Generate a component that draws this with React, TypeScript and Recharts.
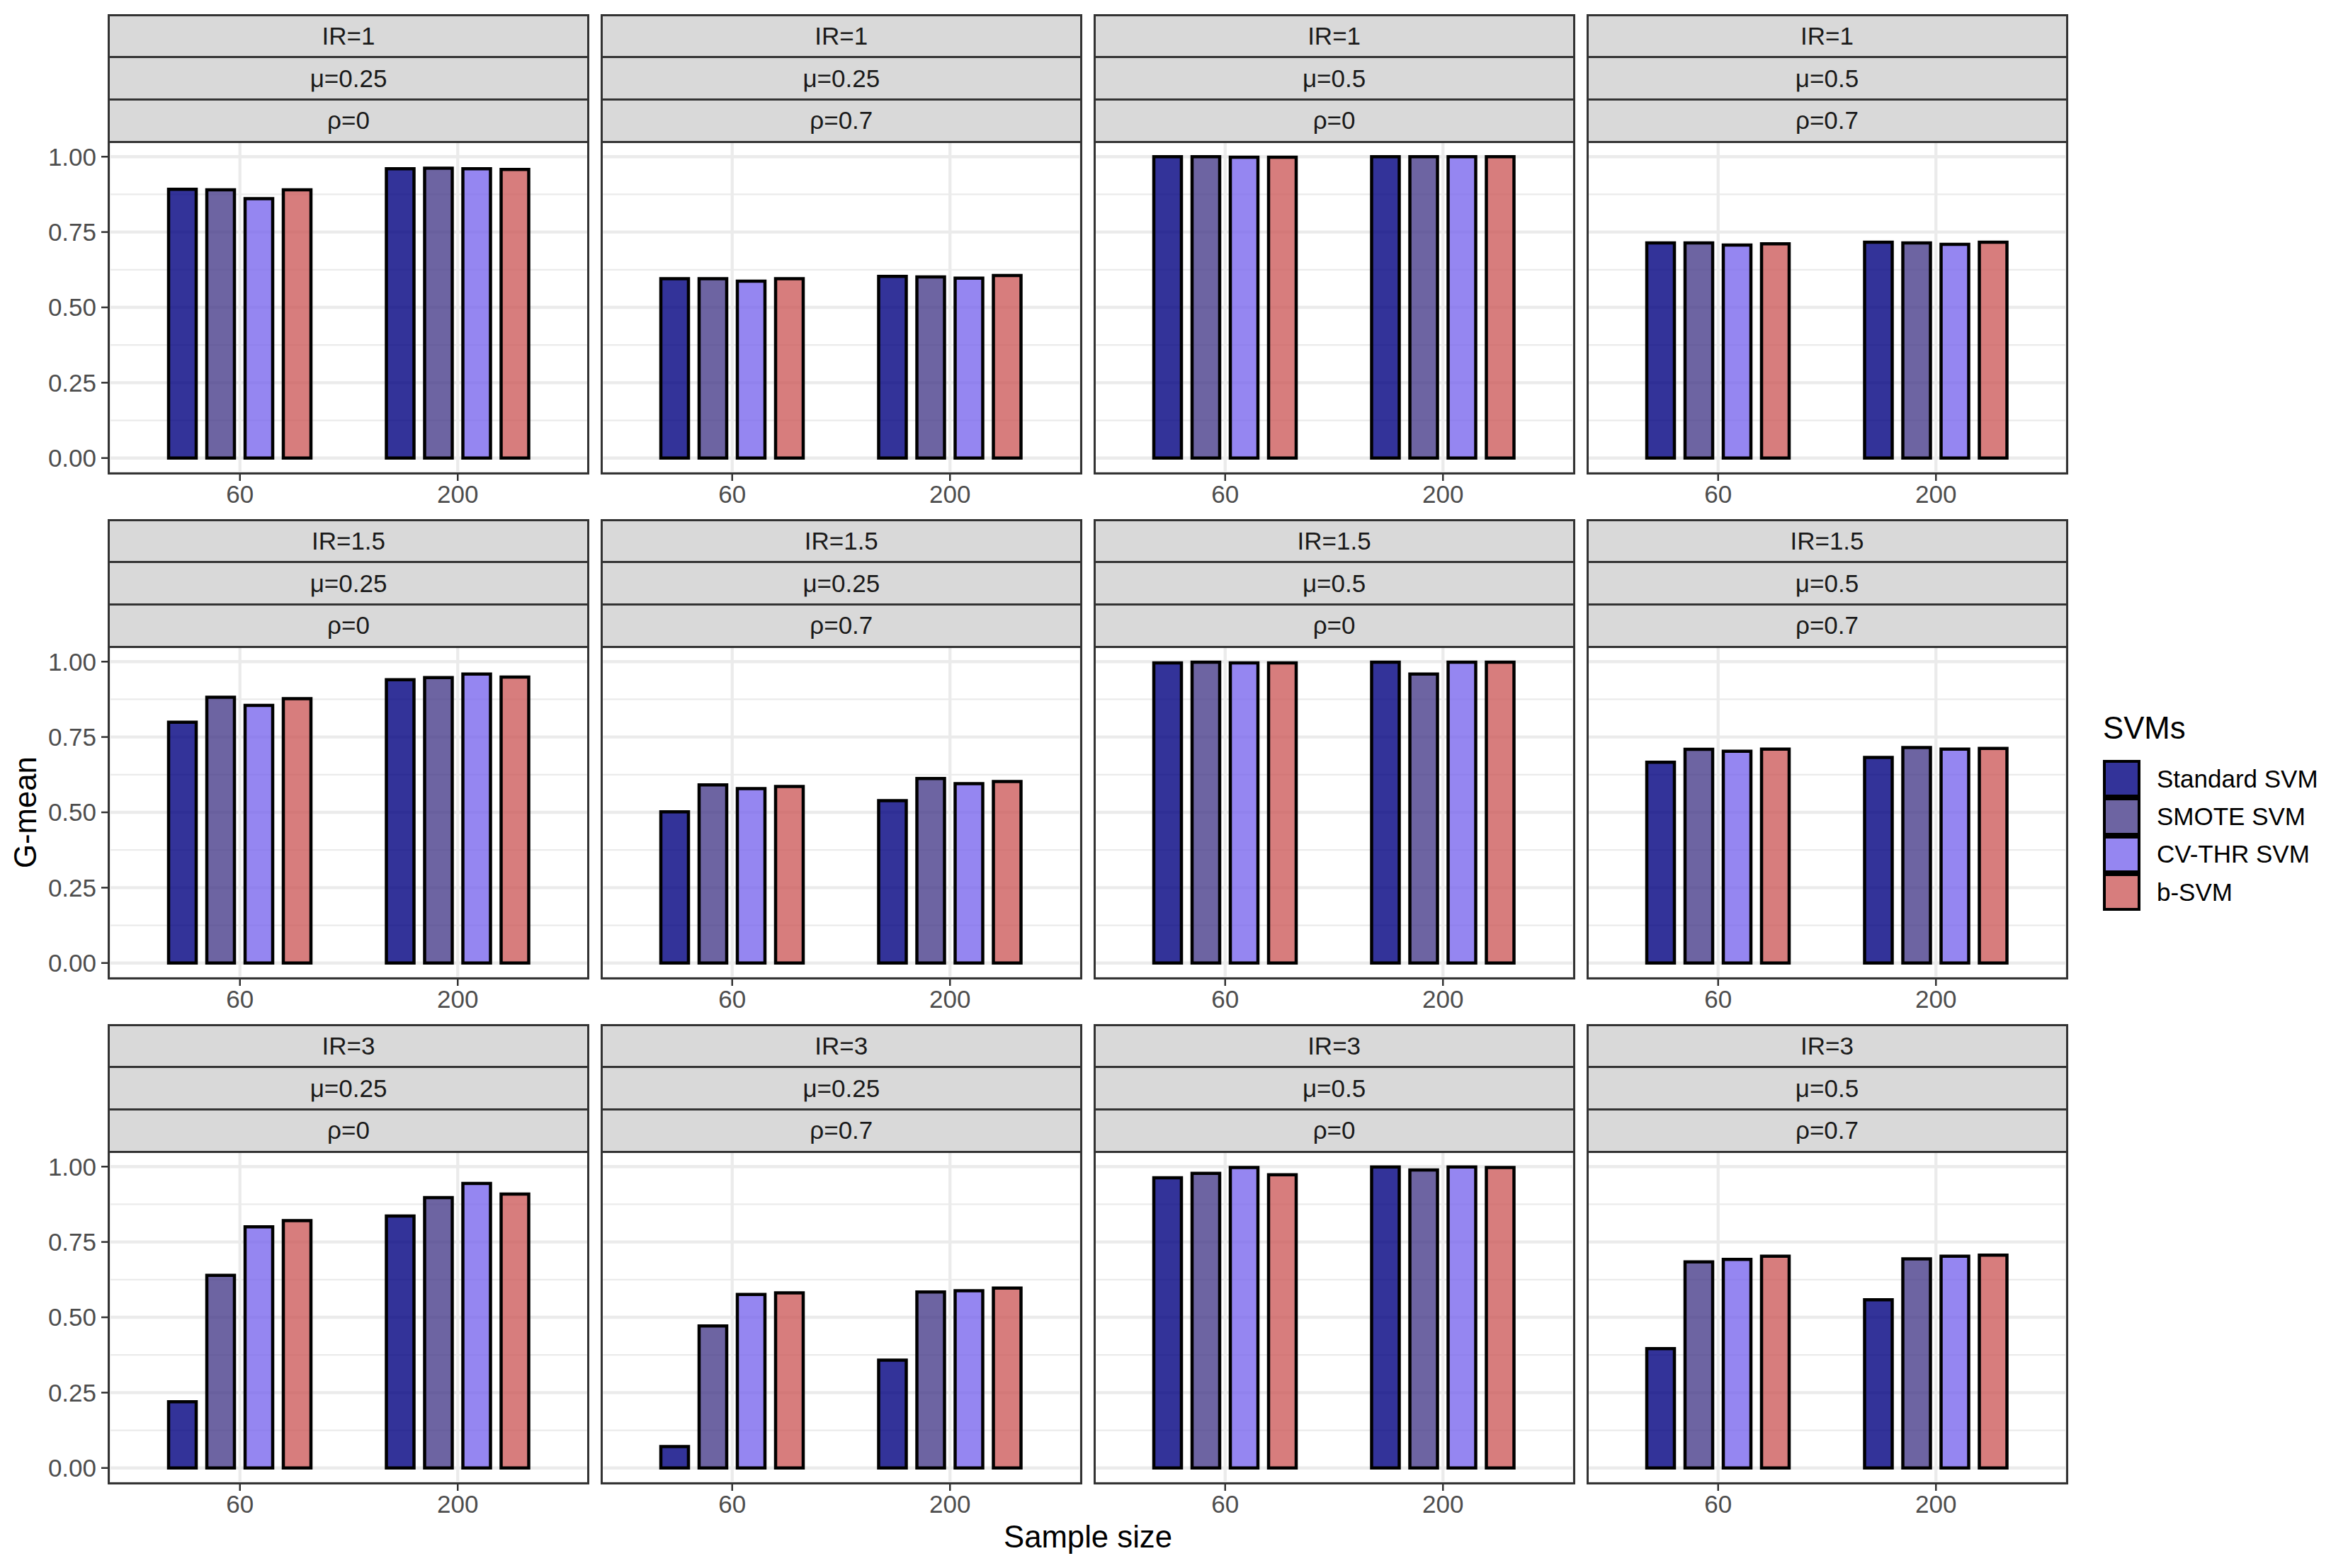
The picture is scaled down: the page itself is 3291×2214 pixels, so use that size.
import React from "react";
import { BarChart, Bar, XAxis, YAxis, CartesianGrid } from "recharts";

// facet levels
const irLevels = ["IR=1", "IR=1.5", "IR=3"];
const muLevels = ["μ=0.25", "μ=0.25", "μ=0.5", "μ=0.5"];
const rhoLevels = ["ρ=0", "ρ=0.7", "ρ=0", "ρ=0.7"];

const sampleSizes = ["60", "200"];
const svmNames = ["Standard SVM", "SMOTE SVM", "CV-THR SVM", "b-SVM"];
const svmFills = ["#000080", "#483D8B", "#7B68EE", "#CD5C5C"];

const yTicks = [0, 0.125, 0.25, 0.375, 0.5, 0.625, 0.75, 0.875, 1];

// G-mean, rows = sample size (60, 200), cols = svm
const ir1Mu25Rho0 = [[0.892, 0.89, 0.861, 0.89], [0.96, 0.962, 0.96, 0.958]];
const ir1Mu25Rho7 = [[0.595, 0.595, 0.587, 0.595], [0.603, 0.601, 0.597, 0.606]];
const ir1Mu5Rho0 = [[1.0, 1.0, 0.998, 0.998], [1.0, 1.0, 1.0, 1.0]];
const ir1Mu5Rho7 = [[0.714, 0.714, 0.707, 0.711], [0.716, 0.714, 0.709, 0.716]];

const ir15Mu25Rho0 = [[0.799, 0.882, 0.855, 0.877], [0.94, 0.947, 0.959, 0.949]];
const ir15Mu25Rho7 = [[0.502, 0.591, 0.579, 0.586], [0.539, 0.612, 0.595, 0.602]];
const ir15Mu5Rho0 = [[0.996, 0.998, 0.996, 0.996], [0.998, 0.959, 0.998, 0.998]];
const ir15Mu5Rho7 = [[0.666, 0.709, 0.703, 0.71], [0.682, 0.715, 0.71, 0.712]];

const ir3Mu25Rho0 = [[0.22, 0.639, 0.8, 0.821], [0.836, 0.897, 0.944, 0.909]];
const ir3Mu25Rho7 = [[0.071, 0.471, 0.576, 0.581], [0.358, 0.584, 0.588, 0.597]];
const ir3Mu5Rho0 = [[0.963, 0.978, 0.997, 0.973], [0.999, 0.989, 0.999, 0.997]];
const ir3Mu5Rho7 = [[0.396, 0.684, 0.692, 0.703], [0.558, 0.694, 0.703, 0.706]];

const panelRows = [
  [ir1Mu25Rho0, ir1Mu25Rho7, ir1Mu5Rho0, ir1Mu5Rho7],
  [ir15Mu25Rho0, ir15Mu25Rho7, ir15Mu5Rho0, ir15Mu5Rho7],
  [ir3Mu25Rho0, ir3Mu25Rho7, ir3Mu5Rho0, ir3Mu5Rho7],
];

const FONT = "'Liberation Sans', Arial, sans-serif";
const COL_LEFT = [153.5, 849.3, 1545.1, 2241];
const STRIP_TOP = [21, 734, 1447];
const STRIP_H = 59.7;
const PANEL_W = 677;
const PANEL_H = 468;
const XAXIS_H = 60;
const YAXIS_W = 150;

function gridLine(props: any) {
  const major = props.index % 2 === 0;
  return (
    <line
      key={props.key}
      x1={props.x1}
      y1={props.y1}
      x2={props.x2}
      y2={props.y2}
      stroke="#ebebeb"
      strokeWidth={major ? 4.3 : 2.2}
    />
  );
}

function vGridLine(props: any) {
  return (
    <line key={props.key} x1={props.x1} y1={props.y1} x2={props.x2} y2={props.y2} stroke="#ebebeb" strokeWidth={4.3} />
  );
}

function YTick(props: any) {
  const { x, y, payload } = props;
  const v = payload.value;
  if (Math.round(v * 8) % 2 !== 0) return <g />;
  return (
    <g>
      <line x1={x + 7} x2={x + 18} y1={y} y2={y} stroke="#333333" strokeWidth={2.5} />
      <text x={x} y={y} dy="0.355em" textAnchor="end" fontSize={35} fontFamily={FONT} fill="#4d4d4d">
        {v.toFixed(2)}
      </text>
    </g>
  );
}

function Panel({ vals, col }: { vals: number[][]; col: number }) {
  const data = sampleSizes.map((s, i) => {
    const row: any = { size: s };
    svmNames.forEach((n, j) => (row[n] = vals[i][j]));
    return row;
  });
  const withAxis = col === 0;
  return (
    <BarChart
      width={PANEL_W + (withAxis ? YAXIS_W : 0)}
      height={PANEL_H + XAXIS_H}
      data={data}
      margin={{ top: 0, right: 0, bottom: 0, left: 0 }}
      barSize={39}
      barGap={15}
    >
      <CartesianGrid horizontal={gridLine} vertical={vGridLine} />
      <XAxis
        dataKey="size"
        height={XAXIS_H}
        axisLine={false}
        tickLine={{ stroke: "#333333", strokeWidth: 2.5 }}
        tickSize={11}
        tickMargin={6}
        interval={0}
        padding={{ left: 31, right: 31 }}
        tick={{ fill: "#4d4d4d", fontSize: 35, fontFamily: FONT }}
      />
      <YAxis
        hide={!withAxis}
        width={YAXIS_W}
        domain={[-0.05, 1.05]}
        allowDataOverflow
        ticks={yTicks}
        interval={0}
        axisLine={false}
        tickLine={false}
        tickSize={11}
        tickMargin={7}
        tick={<YTick />}
      />
      {svmNames.map((n, j) => (
        <Bar
          key={n}
          dataKey={n}
          fill={svmFills[j]}
          fillOpacity={0.8}
          stroke="#000000"
          strokeWidth={4.5}
          isAnimationActive={false}
        />
      ))}
    </BarChart>
  );
}

function Strip({ left, top, text }: { left: number; top: number; text: string }) {
  return (
    <div
      style={{
        position: "absolute",
        left: left - 1.5,
        top: top - 1.5,
        width: PANEL_W + 3,
        height: STRIP_H + 3,
        boxSizing: "border-box",
        border: "3px solid #333333",
        background: "#d9d9d9",
        color: "#1a1a1a",
        fontSize: 35,
        display: "flex",
        alignItems: "center",
        justifyContent: "center",
      }}
    >
      {text}
    </div>
  );
}

export default function App() {
  const items: React.ReactNode[] = [];
  panelRows.forEach((row, r) => {
    row.forEach((vals, c) => {
      const left = COL_LEFT[c];
      const stripTop = STRIP_TOP[r];
      const panelTop = stripTop + 3 * STRIP_H;
      [irLevels[r], muLevels[c], rhoLevels[c]].forEach((t, k) => {
        items.push(<Strip key={`s${r}${c}${k}`} left={left} top={stripTop + k * STRIP_H} text={t} />);
      });
      items.push(
        <div
          key={`p${r}${c}`}
          style={{ position: "absolute", left: c === 0 ? left - YAXIS_W : left, top: panelTop }}
        >
          <Panel vals={vals} col={c} />
        </div>
      );
      items.push(
        <div
          key={`b${r}${c}`}
          style={{
            position: "absolute",
            left: left - 1.5,
            top: panelTop - 1.5,
            width: PANEL_W + 3,
            height: PANEL_H + 3,
            boxSizing: "border-box",
            border: "3px solid #333333",
            pointerEvents: "none",
          }}
        />
      );
    });
  });

  return (
    <div
      style={{
        position: "absolute",
        left: 0,
        top: 0,
        width: 3291,
        height: 2214,
        background: "#ffffff",
        fontFamily: FONT,
        overflow: "hidden",
      }}
    >
      {items}
      {/* y axis title */}
      <div
        style={{
          position: "absolute",
          left: 36,
          top: 1147,
          transform: "translate(-50%, -50%) rotate(-90deg)",
          fontSize: 43.7,
          color: "#000",
          whiteSpace: "nowrap",
        }}
      >
        G-mean
      </div>
      {/* x axis title */}
      <div
        style={{
          position: "absolute",
          left: 1536,
          top: 2148,
          transform: "translateX(-50%)",
          fontSize: 43.7,
          color: "#000",
          whiteSpace: "nowrap",
          lineHeight: "44px",
        }}
      >
        Sample size
      </div>
      {/* legend */}
      <div style={{ position: "absolute", left: 2969, top: 1003, fontSize: 43.7, lineHeight: "50px", color: "#000" }}>
        SVMs
      </div>
      {svmNames.map((n, j) => (
        <React.Fragment key={n}>
          <div
            style={{
              position: "absolute",
              left: 2969,
              top: 1073 + j * 53.3,
              width: 53,
              height: 53.3,
              boxSizing: "border-box",
              border: "4.5px solid #000",
              background: "#fff",
            }}
          >
            <div style={{ width: "100%", height: "100%", background: svmFills[j], opacity: 0.8 }} />
          </div>
          <div
            style={{
              position: "absolute",
              left: 3045,
              top: 1073 + j * 53.3,
              height: 53.3,
              display: "flex",
              alignItems: "center",
              fontSize: 35,
              color: "#000",
              whiteSpace: "nowrap",
            }}
          >
            {n}
          </div>
        </React.Fragment>
      ))}
    </div>
  );
}
